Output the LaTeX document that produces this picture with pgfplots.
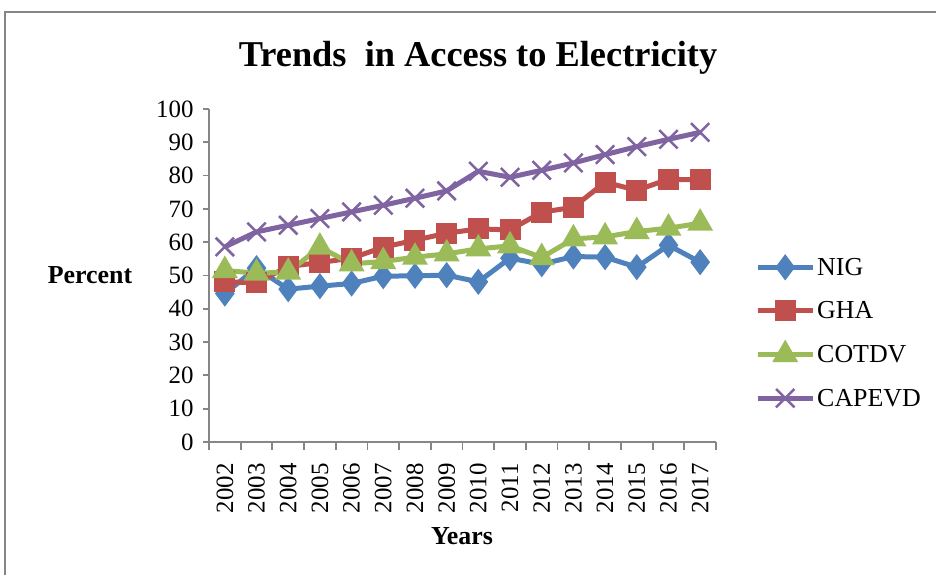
\documentclass[border=0pt]{standalone}
\usepackage{fontspec}
\setmainfont{Liberation Serif}
\usepackage{pgfplots}
\pgfplotsset{compat=1.18}
\definecolor{cnig}{HTML}{4F81BD}
\definecolor{cgha}{HTML}{C0504D}
\definecolor{ccot}{HTML}{9BBB59}
\definecolor{ccap}{HTML}{8064A2}
\definecolor{axgray}{RGB}{134,134,134}
\begin{document}
\begin{tikzpicture}
\path[use as bounding box] (0,0) rectangle (936bp,575bp);
\draw[axgray, line width=2bp] (5bp,-2bp) -- (5bp,563bp) -- (940bp,563bp);
\node[anchor=base, font=\fontsize{36.5}{40}\selectfont\bfseries] at (478bp,508bp) {Trends\ \ in Access to Electricity};
\node[anchor=base, font=\fontsize{26}{30}\selectfont\bfseries] at (90bp,291bp) {Percent};
\node[anchor=base, font=\fontsize{26}{30}\selectfont\bfseries] at (462bp,31bp) {Years};
\begin{axis}[
  at={(209bp,133bp)}, anchor=south west,
  width=507bp, height=333bp, scale only axis,
  xmin=2001.5, xmax=2017.5, ymin=0, ymax=100,
  axis x line=bottom, axis y line=left,
  axis line style={axgray, line width=1.8bp, -},
  xtick={2002,...,2017},
  minor xtick={2001.5,2002.5,...,2017.5},
  ytick={0,10,...,100},
  x tick label style={/pgf/number format/1000 sep={}},
  /pgf/number format/assume math mode=true,
  xticklabel style={rotate=90, anchor=east, font=\fontsize{25}{28}\selectfont},
  yticklabel style={font=\fontsize{25}{28}\selectfont},
  major x tick style={draw=none},
  minor tick length=8bp,
  major tick length=6bp,
  tick style={axgray, line width=1.8bp},
  tick align=outside,
  xticklabel shift=12bp,
  yticklabel shift=6bp,
  legend style={at={(1.077,0.328)}, anchor=west, draw=none, fill=none,
    font=\fontsize{26}{30}\selectfont, row sep=21bp, inner sep=0pt,
    cells={anchor=west}},
  legend image code/.code={\draw[#1, mark repeat=2, mark phase=2] plot coordinates {(0bp,0bp) (27.5bp,0bp) (55bp,0bp)};},
  every axis plot/.append style={line width=5bp},
]
\addplot[cnig, mark=diamond*, mark size=9bp, mark options={solid}] coordinates {
(2002,44.6) (2003,52.2) (2004,45.9) (2005,46.8) (2006,47.6) (2007,49.8) (2008,49.9) (2009,50.1)
(2010,48.1) (2011,55.2) (2012,53.4) (2013,55.7) (2014,55.5) (2015,52.5) (2016,59.1) (2017,54.0)};
\addlegendentry{NIG}
\addplot[cgha, mark=square*, mark size=8bp] coordinates {
(2002,48.1) (2003,47.8) (2004,52.7) (2005,53.9) (2006,55.2) (2007,58.5) (2008,60.6) (2009,62.7)
(2010,64.0) (2011,63.7) (2012,69.0) (2013,70.5) (2014,78.0) (2015,75.6) (2016,78.9) (2017,78.7)};
\addlegendentry{GHA}
\addplot[ccot, mark=triangle*, mark size=10bp] coordinates {
(2002,51.5) (2003,50.7) (2004,51.0) (2005,58.5) (2006,53.5) (2007,54.2) (2008,55.5) (2009,56.5)
(2010,58.0) (2011,58.9) (2012,55.4) (2013,61.0) (2014,61.6) (2015,63.2) (2016,64.2) (2017,65.7)};
\addlegendentry{COTDV}
\addplot[ccap, mark=x, mark size=13bp, mark options={line width=2.5bp}] coordinates {
(2002,58.6) (2003,63.1) (2004,65.1) (2005,67.1) (2006,69.1) (2007,71.1) (2008,73.2) (2009,75.4)
(2010,81.3) (2011,79.5) (2012,81.6) (2013,83.8) (2014,86.3) (2015,88.7) (2016,90.9) (2017,93.0)};
\addlegendentry{CAPEVD}
\end{axis}
\end{tikzpicture}
\end{document}
